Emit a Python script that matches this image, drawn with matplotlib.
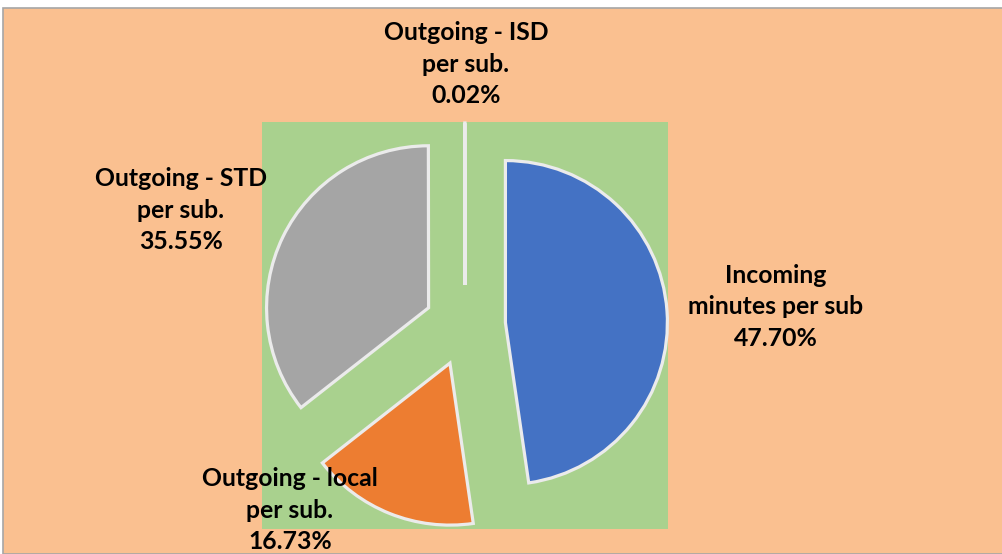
import matplotlib.pyplot as plt
from matplotlib.patches import Rectangle

# Data
categories = ['Incoming\nminutes per sub', 'Outgoing - local\nper sub.',
              'Outgoing - STD\nper sub.', 'Outgoing - ISD\nper sub.']
shares = [47.70, 16.73, 35.55, 0.02]
colors = ['#4472C4', '#ED7D31', '#A5A5A5', '#FFC000']

W, H = 1002, 554
fig = plt.figure(figsize=(W / 100, H / 100), dpi=100)
fig.patch.set_facecolor('white')

# outer chart area with thin gray frame
fig.patches.append(Rectangle((3 / W, 0), 1.0, (H - 8) / H, transform=fig.transFigure,
                             facecolor='#FAC090', edgecolor='#A6A6A6', linewidth=1.2, zorder=-5))

# plot area (green)
ax = fig.add_axes([262 / W, (H - 529) / H, 406 / W, 407 / H])
ax.set_zorder(1)

wedges, _ = ax.pie(shares, colors=colors, startangle=90, counterclock=False,
                   explode=[0.25] * len(shares), radius=1.0, frame=True,
                   wedgeprops=dict(edgecolor='#EBEBEB', linewidth=2.3))
ax.set_facecolor('#A9D18E')
ax.patch.set_visible(True)
for s in ax.spines.values():
    s.set_visible(False)
ax.set_aspect('equal')
ax.set_xlim(-1.253, 1.253)
ax.set_ylim(-1.256, 1.256)
ax.set_xticks([])
ax.set_yticks([])

# data labels
label_pos = [(776, 307), (290, 510), (181, 210), (466, 64)]
for name, val, (px, py) in zip(categories, shares, label_pos):
    fig.text(px / W, 1 - py / H, f'{name}\n{val:.2f}%', ha='center', va='center',
             fontsize=17.8, fontweight='bold', family='Lato', linespacing=1.45,
             color='black', zorder=5)

fig.savefig('out.png', dpi=100)
